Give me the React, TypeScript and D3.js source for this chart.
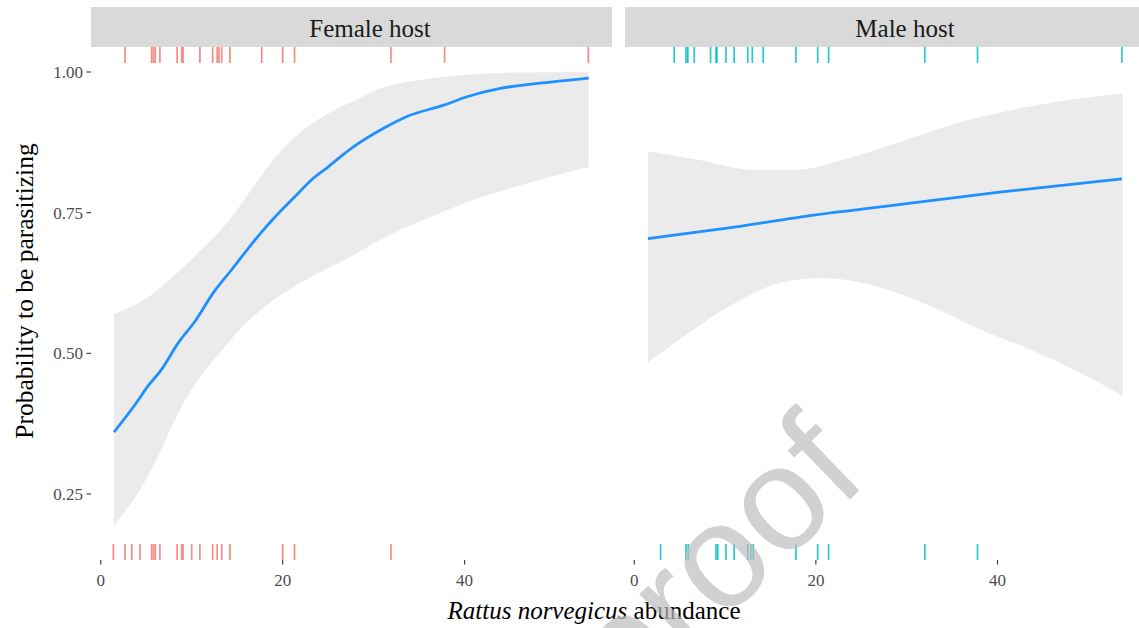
import React from "react";
import * as d3 from "d3";

// ---------- Data ----------
const panels = ["Female host", "Male host"];
const yTicks = [0.25, 0.5, 0.75, 1.0];
const yTickLabels = ["0.25", "0.50", "0.75", "1.00"];
const xTicks = [0, 20, 40];
const xTickLabels = ["0", "20", "40"];

// Female host: fitted probability and confidence band
const femaleFitX = [1.46, 3.96, 5.06, 6.71, 8.54, 10.37, 12.39, 14.41, 16.24, 18.08, 19.73, 21.38, 23.21, 25.04, 27.43, 31.09, 33.66, 37.69, 40.26, 43.93, 47.59, 51.27, 53.64];
const femaleFit = [0.36, 0.413, 0.439, 0.472, 0.519, 0.557, 0.608, 0.649, 0.687, 0.723, 0.752, 0.779, 0.809, 0.832, 0.863, 0.9, 0.921, 0.941, 0.956, 0.971, 0.979, 0.985, 0.989];
const femaleUpperX = [1.46, 3.04, 4.87, 6.71, 10.37, 14.04, 16.97, 19.17, 21.38, 23.58, 25.78, 27.98, 31.09, 34.76, 40.26, 45.76, 53.64];
const femaleUpper = [0.569, 0.581, 0.596, 0.619, 0.673, 0.735, 0.8, 0.848, 0.885, 0.912, 0.933, 0.95, 0.973, 0.985, 0.995, 0.999, 1.0];
const femaleLowerX = [1.46, 4.14, 5.97, 8.54, 10.74, 12.94, 15.87, 18.6, 21.4, 24.0, 27.5, 31.09, 34.76, 38.43, 42.09, 45.76, 49.43, 53.64];
const femaleLower = [0.195, 0.253, 0.306, 0.395, 0.454, 0.498, 0.552, 0.59, 0.62, 0.643, 0.672, 0.705, 0.732, 0.757, 0.779, 0.797, 0.814, 0.831];

// Male host
const maleFitX = [1.5, 10, 20, 27.6, 40, 53.7];
const maleFit = [0.704, 0.722, 0.746, 0.761, 0.786, 0.81];
const maleUpperX = [1.5, 7, 13.1, 17.9, 23.0, 28.9, 36.2, 41.7, 47.2, 53.8];
const maleUpper = [0.859, 0.844, 0.826, 0.826, 0.844, 0.874, 0.912, 0.933, 0.949, 0.962];
const maleLowerX = [1.5, 5.0, 10.5, 16.0, 20.8, 25.2, 32.6, 38.0, 43.6, 49.1, 53.8];
const maleLower = [0.484, 0.525, 0.584, 0.625, 0.634, 0.625, 0.584, 0.543, 0.507, 0.466, 0.424];

// Rugs: observations parasitizing (top) and not (bottom)
const femaleRugTop = [2.67, 5.6, 5.8, 6.0, 6.5, 8.4, 8.9, 9.05, 10.9, 12.3, 12.8, 13.0, 13.3, 14.2, 17.7, 20.0, 21.3, 31.9, 37.8, 53.6];
const femaleRugBottom = [1.39, 2.67, 3.41, 4.32, 5.6, 5.8, 6.0, 6.5, 8.4, 8.9, 9.05, 10.0, 10.9, 12.3, 12.8, 13.3, 14.2, 20.0, 21.3, 31.9];
const maleRugTop = [4.4, 5.7, 5.9, 6.6, 8.4, 9.0, 9.1, 10.1, 11.0, 12.5, 13.0, 14.2, 17.8, 20.2, 21.4, 32.0, 37.8, 53.7];
const maleRugBottom = [2.9, 5.7, 5.95, 9.0, 9.2, 10.1, 11.0, 12.5, 12.85, 13.1, 17.8, 20.2, 21.4, 32.0, 37.8];

// ---------- Layout ----------
const W = 1139;
const H = 628;
const panelTop = 47;
const panelBottom = 560;
const stripTop = 7;
const rugLen = 16;
const serif = "'Liberation Serif', 'Times New Roman', serif";

const yScale = d3.scaleLinear().domain([0.25, 1]).range([494, 72]);

const panelDefs = [
  {
    name: panels[0],
    x: d3.scaleLinear().domain([-1.07, 56.2]).range([91, 612]),
    stripTextX: 370,
    fitX: femaleFitX, fit: femaleFit,
    upX: femaleUpperX, up: femaleUpper,
    loX: femaleLowerX, lo: femaleLower,
    rugTop: femaleRugTop, rugBottom: femaleRugBottom,
    rugColor: "#F8766D",
    showY: true,
  },
  {
    name: panels[1],
    x: d3.scaleLinear().domain([-1.02, 56.2]).range([625, 1144.6]),
    stripTextX: 905,
    fitX: maleFitX, fit: maleFit,
    upX: maleUpperX, up: maleUpper,
    loX: maleLowerX, lo: maleLower,
    rugTop: maleRugTop, rugBottom: maleRugBottom,
    rugColor: "#00BFC4",
    showY: false,
  },
];

function Panel({ p, idx }: { p: any; idx: number }) {
  const xs = p.x;
  const [x0, x1] = xs.range();
  const line = d3
    .line<[number, number]>()
    .x((d) => xs(d[0]))
    .y((d) => yScale(d[1]))
    .curve(d3.curveMonotoneX);
  const fitPts: [number, number][] = p.fitX.map((v: number, i: number) => [v, p.fit[i]]);
  const upPts: [number, number][] = p.upX.map((v: number, i: number) => [v, p.up[i]]);
  const loPts: [number, number][] = p.loX.map((v: number, i: number) => [v, p.lo[i]]);
  const upperPath = line(upPts) || "";
  const lowerPath = (line(loPts.slice().reverse()) || "").replace(/^M/, "L");
  const bandPath = upperPath + lowerPath + "Z";
  const clipId = `clip${idx}`;
  return (
    <g>
      <defs>
        <clipPath id={clipId}>
          <rect x={x0} y={panelTop} width={x1 - x0} height={panelBottom - panelTop} />
        </clipPath>
      </defs>
      {/* strip */}
      <rect x={x0} y={stripTop} width={x1 - x0} height={panelTop - stripTop} fill="#d9d9d9" />
      <text
        x={p.stripTextX}
        y={(stripTop + panelTop) / 2 + 1}
        dy="0.35em"
        textAnchor="middle"
        fontFamily={serif}
        fontSize={25}
        fill="#1a1a1a"
      >
        {p.name}
      </text>
      <g clipPath={`url(#${clipId})`}>
        <path d={bandPath} fill="#ebebeb" stroke="none" />
        <path d={line(fitPts) || ""} fill="none" stroke="#1E90FF" strokeWidth={2.8} />
        {p.rugTop.map((v: number, i: number) => (
          <line
            key={"t" + i}
            x1={xs(v)}
            x2={xs(v)}
            y1={panelTop}
            y2={panelTop + rugLen}
            stroke={p.rugColor}
            strokeOpacity={0.85}
            strokeWidth={1.7}
          />
        ))}
        {p.rugBottom.map((v: number, i: number) => (
          <line
            key={"b" + i}
            x1={xs(v)}
            x2={xs(v)}
            y1={panelBottom - rugLen}
            y2={panelBottom}
            stroke={p.rugColor}
            strokeOpacity={0.85}
            strokeWidth={1.7}
          />
        ))}
      </g>
      {/* x axis ticks */}
      {xTicks.map((t, i) => (
        <g key={"xt" + i}>
          <line x1={xs(t)} x2={xs(t)} y1={panelBottom} y2={panelBottom + 4.5} stroke="#333333" strokeWidth={1.1} />
          <text
            x={xs(t)}
            y={panelBottom + 26}
            textAnchor="middle"
            fontFamily={serif}
            fontSize={17}
            fill="#4d4d4d"
          >
            {xTickLabels[i]}
          </text>
        </g>
      ))}
      {p.showY &&
        yTicks.map((t, i) => (
          <g key={"yt" + i}>
            <line x1={x0 - 4.5} x2={x0} y1={yScale(t)} y2={yScale(t)} stroke="#333333" strokeWidth={1.1} />
            <text
              x={x0 - 8}
              y={yScale(t)}
              dy="0.35em"
              textAnchor="end"
              fontFamily={serif}
              fontSize={17}
              fill="#4d4d4d"
            >
              {yTickLabels[i]}
            </text>
          </g>
        ))}
    </g>
  );
}

export default function App() {
  return (
    <div style={{ position: "absolute", left: 0, top: 0 }}>
      <svg width={W} height={H} style={{ display: "block", background: "#ffffff" }}>
        <rect x={0} y={0} width={W} height={H} fill="#ffffff" />
        {panelDefs.map((p, i) => (
          <Panel key={i} p={p} idx={i} />
        ))}
        <text
          transform={`translate(33, 291) rotate(-90)`}
          textAnchor="middle"
          fontFamily={serif}
          fontSize={25.5}
          fill="#000000"
        >
          Probability to be parasitizing
        </text>
        <text x={594} y={619} textAnchor="middle" fontFamily={serif} fontSize={25} fill="#000000">
          <tspan fontStyle="italic">Rattus norvegicus</tspan>
          <tspan> abundance</tspan>
        </text>
        <text
          transform={`translate(870, 480) rotate(-44)`}
          textAnchor="end"
          fontFamily="'Liberation Sans', Arial, sans-serif"
          fontSize={148}
          fill="#bdbdbd"
          fillOpacity={0.7}
        >
          Journal Pre-proof
        </text>
      </svg>
    </div>
  );
}
